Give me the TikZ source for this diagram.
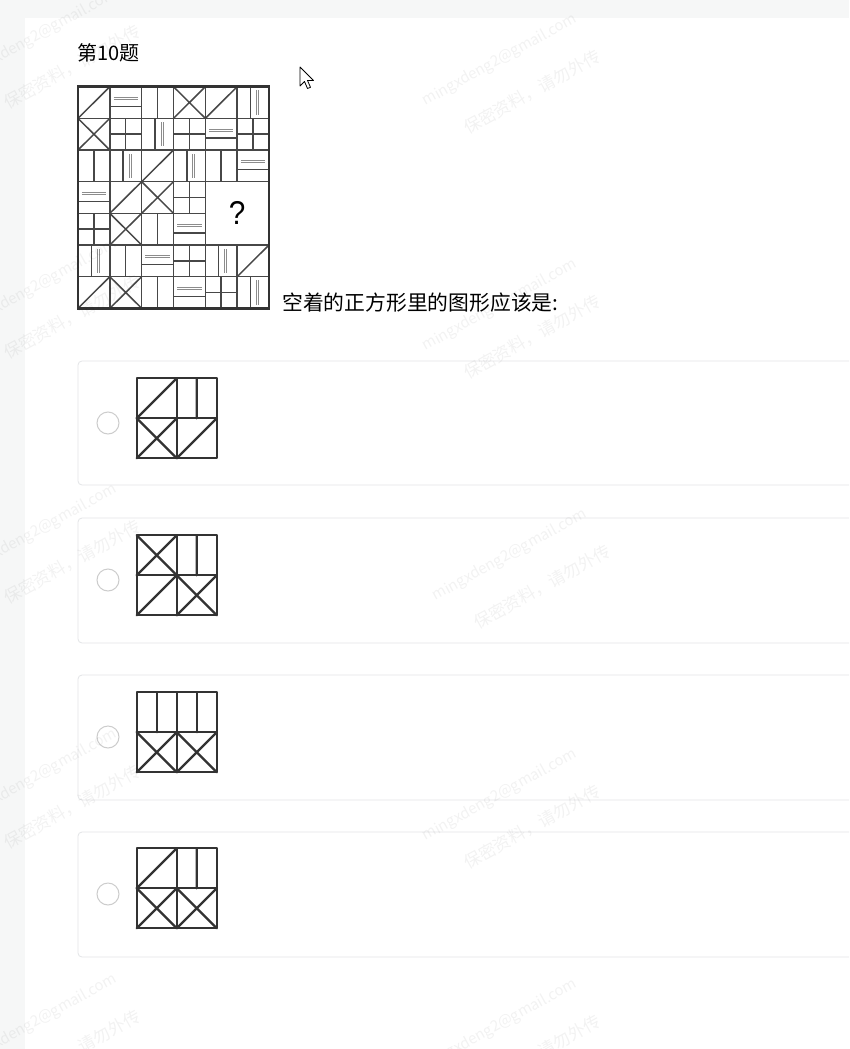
\documentclass[tikz,border=0pt]{standalone}
\usepackage{fontspec}
\newfontfamily\cjk{Noto Sans CJK SC}
\newfontfamily\qfont{Liberation Sans}
\usetikzlibrary{positioning}
\definecolor{pagebg}{HTML}{F6F7F7}
\definecolor{cardline}{HTML}{E3E5E7}
\definecolor{inkline}{HTML}{333333}
\definecolor{ghost}{HTML}{8C8C8C}
\tikzset{
  frame/.style={line width=2.5pt,draw=inkline},
  cellline/.style={line width=1.5pt,draw=inkline!90},
  ghostline/.style={line width=0.9pt,draw=ghost},
  optline/.style={line width=2.3pt,draw=inkline,line cap=round,line join=round},
  card/.style={draw=cardline,line width=0.8pt,rounded corners=4pt},
  radio/.style={circle,draw=black!20,line width=1pt,minimum size=22pt,inner sep=0pt},
  wm/.style={text=black,text opacity=0.05,font=\cjk\fontsize{15}{17}\selectfont,rotate=29,inner sep=0pt},
}

\begin{document}
\begin{tikzpicture}[x=1pt,y=-1pt]
\useasboundingbox (0,0) rectangle (849,1049);
\clip (0,0) rectangle (849,1049);
\fill[pagebg] (0,0) rectangle (849,1049);
\fill[white] (25,18) rectangle (849,1049);

\node[anchor=west,inner sep=0pt,font=\cjk\fontsize{20}{24}\selectfont] (title) at (77,53) {第10题};

% puzzle grid, 6 x 7 cells
\begin{scope}[shift={(78pt,-86.7pt)},x=31.83pt,y=-31.66pt]
\foreach \j in {1,2,3,5,6} \draw[cellline] (0,\j) -- (6,\j);
\draw[cellline] (0,4) -- (4,4);
\foreach \i in {1,2,3,4} \draw[cellline] (\i,0) -- (\i,7);
\draw[cellline] (5,0) -- (5,3) (5,5) -- (5,7);
% slashes
\foreach \i/\j in {0/0,4/0,2/2,1/3,5/5,0/6}
  \draw[cellline] (\i,\j+1) -- (\i+1,\j);
% crosses
\foreach \i/\j in {3/0,0/1,2/3,1/4,1/6}
  \draw[cellline] (\i,\j) -- (\i+1,\j+1) (\i,\j+1) -- (\i+1,\j);
% middle verticals
\foreach \i/\j in {2/0,0/2,4/2,2/4,1/5,2/6}
  \draw[cellline] (\i+.5,\j) -- (\i+.5,\j+1);
% plus signs
\foreach \i/\j in {1/1,3/1,5/1,3/3,0/4,3/5,4/6}
  \draw[cellline] (\i+.5,\j) -- (\i+.5,\j+1) (\i,\j+.5) -- (\i+1,\j+.5);
% vertical line with ghost pair
\foreach \i/\j in {5/0,2/1,1/2,3/2,0/5,4/5,5/6} {
  \draw[cellline] (\i+.42,\j) -- (\i+.42,\j+1);
  \draw[ghostline] (\i+.61,\j+.12) -- (\i+.61,\j+.88) (\i+.67,\j+.12) -- (\i+.67,\j+.88);
}
% horizontal line with ghost pair
\foreach \i/\j in {1/0,4/1,5/2,0/3,3/4,2/5,3/6} {
  \draw[cellline] (\i,\j+.62) -- (\i+1,\j+.62);
  \draw[ghostline] (\i+.12,\j+.34) -- (\i+.88,\j+.34) (\i+.12,\j+.40) -- (\i+.88,\j+.40);
}
\draw[frame] (0,0) rectangle (6,7);
\node[font=\qfont\fontsize{33}{33}\selectfont,inner sep=0pt,xscale=.9] (qmark) at (5,4) {?};
\end{scope}

\node[anchor=west,inner sep=0pt,font=\cjk\fontsize{20.8}{24}\selectfont] (question) at (282,303) {空着的正方形里的图形应该是:};

% mouse pointer
\draw[fill=white,line width=0.8pt,line join=round] (300,67) -- (300,86) -- (304.5,81.5) -- (307.5,88.5)
  -- (310.5,87.3) -- (307.5,80.5) -- (313.5,80.5) -- cycle;

% answer cards
\draw[card] (78,361) rectangle (870,485);
\draw[card] (78,518) rectangle (870,643);
\draw[card] (78,675) rectangle (870,800);
\draw[card] (78,832) rectangle (870,957);
\node[radio] (radioA) at (108,423) {};
\node[radio] (radioB) at (108,580) {};
\node[radio] (radioC) at (108,737) {};
\node[radio] (radioD) at (108,894) {};

% option A
\begin{scope}[shift={(136.7pt,-378.3pt)},x=40pt,y=-40pt]
\draw[optline] (0,0) rectangle (2,2) (1,0) -- (1,2) (0,1) -- (2,1);
\draw[optline] (0,1) -- (1,0) (1.5,0) -- (1.5,1);
\draw[optline] (0,1) -- (1,2) (0,2) -- (1,1) (1,2) -- (2,1);
\end{scope}
% option B
\begin{scope}[shift={(136.7pt,-535.3pt)},x=40pt,y=-40pt]
\draw[optline] (0,0) rectangle (2,2) (1,0) -- (1,2) (0,1) -- (2,1);
\draw[optline] (0,0) -- (1,1) (0,1) -- (1,0) (1.5,0) -- (1.5,1);
\draw[optline] (0,2) -- (1,1) (1,1) -- (2,2) (1,2) -- (2,1);
\end{scope}
% option C
\begin{scope}[shift={(136.7pt,-692.3pt)},x=40pt,y=-40pt]
\draw[optline] (0,0) rectangle (2,2) (1,0) -- (1,2) (0,1) -- (2,1);
\draw[optline] (.5,0) -- (.5,1) (1.5,0) -- (1.5,1);
\draw[optline] (0,1) -- (1,2) (0,2) -- (1,1) (1,1) -- (2,2) (1,2) -- (2,1);
\end{scope}
% option D
\begin{scope}[shift={(136.7pt,-848.3pt)},x=40pt,y=-40pt]
\draw[optline] (0,0) rectangle (2,2) (1,0) -- (1,2) (0,1) -- (2,1);
\draw[optline] (0,1) -- (1,0) (1.5,0) -- (1.5,1);
\draw[optline] (0,1) -- (1,2) (0,2) -- (1,1) (1,1) -- (2,2) (1,2) -- (2,1);
\end{scope}

% watermark
\foreach \x/\y [count=\k] in {40/35,500/60,40/285,500/305,40/530,510/555,40/775,500/795,40/1020,500/1025} {
  \node[wm] (wmmail-\k) at (\x,\y) {mingxdeng2@gmail.com};
  \node[wm,font=\cjk\fontsize{17}{19}\selectfont] (wmnote-\k) at (\x+32,\y+32) {保密资料，请勿外传};
}
\end{tikzpicture}
\end{document}
